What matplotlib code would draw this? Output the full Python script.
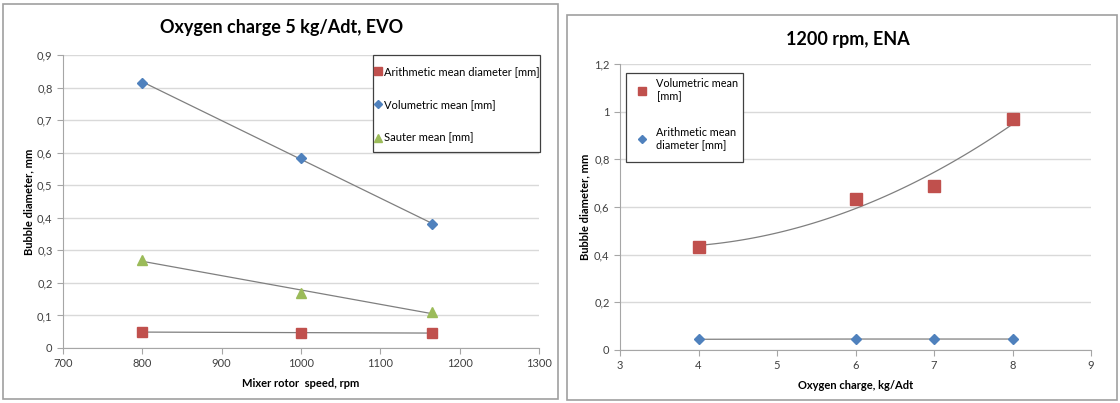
import numpy as np
import matplotlib
matplotlib.use("Agg")
import matplotlib.pyplot as plt
from matplotlib.patches import Rectangle

plt.rcParams["font.family"] = ["Lato", "DejaVu Sans"]

# left chart: oxygen charge 5 kg/Adt, EVO
rotor_speed = [800, 1000, 1165]
evo_arithmetic = [0.049, 0.047, 0.046]
evo_volumetric = [0.815, 0.585, 0.38]
evo_sauter = [0.27, 0.17, 0.11]

# right chart: 1200 rpm, ENA
oxygen_charge = [4, 6, 7, 8]
ena_volumetric = [0.432, 0.635, 0.69, 0.968]
ena_arithmetic = [0.045, 0.046, 0.046, 0.046]

RED = "#C0504D"
BLUE = "#4F81BD"
GREEN = "#9BBB59"
GRID = "#D9D9D9"
AXIS = "#A6A6A6"
TREND = "#7F7F7F"

W, H = 1120, 403
fig = plt.figure(figsize=(W / 100, H / 100), dpi=100)


def px_axes(x0, y0, x1, y1):
    # pixel box (top-left origin) -> figure axes
    return fig.add_axes([x0 / W, 1 - y1 / H, (x1 - x0) / W, (y1 - y0) / H])


def px_box(x0, y0, x1, y1, color, lw):
    fig.patches.append(Rectangle((x0 / W, 1 - y1 / H), (x1 - x0) / W, (y1 - y0) / H,
                                 transform=fig.transFigure, fill=True, fc="white",
                                 ec=color, lw=lw, zorder=5))


def style(ax):
    ax.grid(axis="y", color=GRID, lw=1)
    ax.set_axisbelow(True)
    for s in ["top", "right"]:
        ax.spines[s].set_visible(False)
    for s in ["left", "bottom"]:
        ax.spines[s].set_color(AXIS)
    ax.tick_params(colors=AXIS, labelcolor="#404040", labelsize=8, length=4)


# panel frames
fig.patches.append(Rectangle((3 / W, 1 - 399 / H), 555 / W, 395 / H, transform=fig.transFigure,
                             fill=False, ec="#A0A0A0", lw=1.2))
fig.patches.append(Rectangle((567 / W, 1 - 400 / H), 550 / W, 385 / H, transform=fig.transFigure,
                             fill=False, ec="#A0A0A0", lw=1.2))

# ---- left
ax1 = px_axes(63, 55, 539, 348)
style(ax1)
xs = np.array(rotor_speed)
for ys in (evo_arithmetic, evo_volumetric, evo_sauter):
    k = np.polyfit(xs, ys, 1)
    ax1.plot(xs, np.polyval(k, xs), color=TREND, lw=0.9, zorder=2)
ax1.plot(xs, evo_arithmetic, "s", color=RED, ms=7, ls="none", label="Arithmetic mean diameter [mm]", zorder=3)
ax1.plot(xs, evo_volumetric, "D", color=BLUE, ms=5.5, ls="none", label="Volumetric mean [mm]", zorder=3)
ax1.plot(xs, evo_sauter, "^", color=GREEN, ms=7, ls="none", label="Sauter mean [mm]", zorder=3)
ax1.set_xlim(700, 1300)
ax1.set_ylim(0, 0.9)
ax1.set_xticks(range(700, 1301, 100))
ax1.set_yticks(np.arange(0, 0.91, 0.1))
ax1.set_yticklabels(["0"] + [f"{v:.1f}".replace(".", ",") for v in np.arange(0.1, 0.91, 0.1)])
ax1.set_xlabel("Mixer rotor  speed, rpm", fontsize=8, fontweight="bold", labelpad=6)
ax1.set_ylabel("Bubble diameter, mm", fontsize=8, fontweight="bold", labelpad=2)
fig.text(282 / W, 1 - 27 / H, "Oxygen charge 5 kg/Adt, EVO", ha="center", va="center",
         fontsize=13, fontweight="bold")
px_box(373, 55, 540, 152, "#404040", 0.9)
leg = fig.legend(*ax1.get_legend_handles_labels(), loc="upper left",
                 bbox_to_anchor=(372 / W, 1 - 66 / H), fontsize=8, frameon=False,
                 labelspacing=2.0, handletextpad=0.1, handlelength=1.0, borderpad=0,
                 borderaxespad=0, markerscale=0.8)
leg.set_zorder(6)

# ---- right
ax2 = px_axes(620, 64, 1091, 350)
style(ax2)
xo = np.array(oxygen_charge)
k2 = np.polyfit(xo, ena_volumetric, 2)
xc = np.linspace(xo.min(), xo.max(), 100)
ax2.plot(xc, np.polyval(k2, xc), color=TREND, lw=0.9, zorder=2)
ax2.plot(xo, ena_arithmetic, color=TREND, lw=0.9, zorder=2)
ax2.plot(xo, ena_volumetric, "s", color=RED, ms=8, ls="none", label="Volumetric mean\n[mm]", zorder=3)
ax2.plot(xo, ena_arithmetic, "D", color=BLUE, ms=5.5, ls="none", label="Arithmetic mean\ndiameter [mm]", zorder=3)
ax2.set_xlim(3, 9)
ax2.set_ylim(0, 1.2)
ax2.set_xticks(range(3, 10))
ax2.set_yticks(np.arange(0, 1.21, 0.2))
ax2.set_yticklabels(["0", "0,2", "0,4", "0,6", "0,8", "1", "1,2"])
ax2.set_xlabel("Oxygen charge, kg/Adt", fontsize=8, fontweight="bold", labelpad=6)
ax2.set_ylabel("Bubble diameter, mm", fontsize=8, fontweight="bold", labelpad=3)
fig.text(848 / W, 1 - 40 / H, "1200 rpm, ENA", ha="center", va="center",
         fontsize=13, fontweight="bold")
px_box(626, 73, 743, 162, "#404040", 0.9)
leg2 = fig.legend(*ax2.get_legend_handles_labels(), loc="upper left",
                  bbox_to_anchor=(637 / W, 1 - 78 / H), fontsize=7.8, frameon=False,
                  labelspacing=2.3, handletextpad=0.8, handlelength=1.0, borderpad=0,
                  borderaxespad=0, markerscale=0.8)
leg2.set_zorder(6)

fig.savefig("out.png", dpi=100)
